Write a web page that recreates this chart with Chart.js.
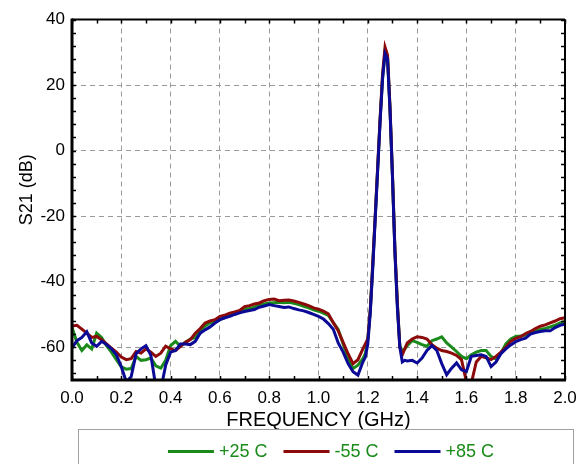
<!DOCTYPE html>
<html>
<head>
<meta charset="utf-8">
<script src="https://cdn.jsdelivr.net/npm/chart.js@4.4.0/dist/chart.umd.min.js"></script>
<style>
  html, body { margin: 0; padding: 0; background: #fff; }
  #wrap { width: 587px; height: 464px; }
</style>
</head>
<body>
<div id="wrap"><canvas id="s21Chart" width="587" height="464"></canvas></div>
<script>
// frequency points (GHz), shared by all three traces
const freq = [
  0.00, 0.02, 0.04, 0.06, 0.08, 0.10, 0.12, 0.14, 0.16, 0.18,
  0.20, 0.22, 0.24, 0.26, 0.28, 0.30, 0.32, 0.34, 0.36, 0.38,
  0.40, 0.42, 0.44, 0.46, 0.48, 0.50, 0.52, 0.54, 0.56, 0.58,
  0.60, 0.62, 0.64, 0.66, 0.68, 0.70, 0.72, 0.74, 0.76, 0.78,
  0.80, 0.82, 0.84, 0.86, 0.88, 0.90, 0.92, 0.94, 0.96, 0.98,
  1.00, 1.02, 1.04, 1.06, 1.08, 1.10, 1.12, 1.14, 1.16, 1.18,
  1.19, 1.20, 1.21, 1.22, 1.23, 1.24, 1.25, 1.26, 1.27, 1.28,
  1.29, 1.30, 1.31, 1.32, 1.33, 1.34, 1.35,
  1.36, 1.38, 1.40, 1.42, 1.44, 1.46, 1.48, 1.50, 1.52, 1.54,
  1.56, 1.58, 1.60, 1.62, 1.64, 1.66, 1.68, 1.70, 1.72, 1.74,
  1.76, 1.78, 1.80, 1.82, 1.84, 1.86, 1.88, 1.90, 1.92, 1.94,
  1.96, 1.98, 2.00
];

// S21 (dB) at +25 C
const s21Plus25 = [
  -54.0, -58.5, -61.0, -59.3, -60.5, -55.7, -57.0, -59.5, -61.5, -63.8,
  -66.0, -66.7, -66.5, -62.8, -64.0, -63.8, -63.3, -65.7, -66.4, -64.0,
  -59.5, -58.2, -59.7, -58.5, -57.5, -57.0, -55.0, -53.5, -52.5, -52.3,
  -51.6, -51.0, -50.1, -49.8, -49.2, -48.3, -48.2, -47.8, -47.2, -46.8,
  -46.5, -46.4, -46.3, -46.4, -46.3, -46.6, -47.0, -47.5, -48.0, -48.6,
  -49.0, -49.6, -50.3, -52.5, -54.6, -59.0, -63.5, -66.5, -65.5, -63.5,
  -62.0, -57.5, -49.0, -35.0, -20.5, -5.5, 9.5, 22.5, 30.2, 28.5,
  13.0, -7.5, -30.5, -47.0, -59.5, -61.3, -60.5,
  -59.5, -58.0, -58.5, -59.2, -59.7, -58.0, -57.5, -56.8, -58.7, -60.0,
  -61.3, -62.8, -63.5, -62.3, -61.5, -61.0, -61.0, -62.8, -63.6, -61.8,
  -59.0, -57.5, -56.7, -56.6, -56.3, -55.7, -55.2, -54.6, -54.3, -53.8,
  -53.3, -52.6, -52.1
];

// S21 (dB) at -55 C
const s21Minus55 = [
  -53.5, -53.3, -54.5, -55.7, -57.0, -56.7, -57.7, -59.0, -60.3, -61.5,
  -63.0, -63.8, -63.5, -61.3, -61.8, -60.5, -61.5, -62.8, -61.8, -59.7,
  -60.5, -61.0, -59.7, -58.5, -57.7, -55.7, -54.3, -52.6, -52.0, -51.6,
  -50.6, -50.2, -49.6, -49.2, -48.8, -47.6, -47.3, -46.8, -46.5, -45.8,
  -45.4, -45.3, -45.8, -45.7, -45.6, -45.9, -46.3, -46.8, -47.3, -48.0,
  -48.4, -49.0, -49.8, -52.5, -55.0, -58.5, -62.0, -65.0, -63.8, -60.5,
  -59.0, -57.5, -48.5, -34.5, -20.0, -5.0, 10.0, 23.5, 31.6, 29.2,
  13.5, -7.0, -30.0, -46.5, -60.0, -62.3, -60.5,
  -58.7, -57.5, -56.8, -57.0, -57.5, -59.2, -60.3, -61.0, -61.3, -61.8,
  -62.5, -63.8, -70.5, -71.0, -64.5, -62.8, -63.2, -63.8, -62.8, -61.5,
  -60.0, -58.2, -57.3, -56.8, -55.8, -55.2, -54.3, -53.6, -53.2, -52.6,
  -52.0, -51.3, -51.0
];

// S21 (dB) at +85 C
const s21Plus85 = [
  -60.2, -58.0, -57.0, -55.3, -58.7, -59.7, -58.2, -59.2, -60.5, -62.3,
  -66.0, -70.5, -69.0, -62.0, -60.5, -59.5, -62.5, -72.0, -73.0, -65.5,
  -61.5, -61.0, -59.0, -59.0, -59.2, -58.2, -55.7, -54.7, -53.8, -52.6,
  -51.6, -51.0, -50.6, -50.0, -49.5, -49.1, -48.8, -48.5, -47.8, -47.4,
  -47.0, -47.3, -47.6, -47.9, -47.7, -48.2, -48.6, -48.9, -49.4, -50.0,
  -50.6, -51.4, -52.8, -54.5, -58.7, -61.5, -65.0, -67.5, -68.5, -64.5,
  -63.0, -59.0, -49.5, -36.0, -21.0, -6.0, 9.0, 22.0, 29.6, 28.0,
  12.5, -8.0, -31.0, -48.0, -60.0, -64.5, -64.0,
  -64.2, -64.0, -64.8, -63.3, -61.0, -59.5, -61.0, -65.0, -68.4, -66.4,
  -64.8, -66.9, -67.4, -62.8, -62.5, -62.3, -62.8, -65.9, -64.5, -62.0,
  -60.5, -59.3, -58.3, -57.7, -57.2, -56.0, -55.5, -55.2, -55.0, -55.0,
  -54.0, -53.3, -53.0
];

const seriesLabels = ["+25 C", "-55 C", "+85 C"];
const seriesColors = ["#1a8a1a", "#8c0a0a", "#0a0a96"];
const xTicks = [0.0, 0.2, 0.4, 0.6, 0.8, 1.0, 1.2, 1.4, 1.6, 1.8, 2.0];
const yTicks = [-60, -40, -20, 0, 20, 40];

const FONT = "'Liberation Sans', Arial, sans-serif";

const toPoints = (vals) => vals.map((v, i) => ({ x: freq[i], y: v }));

// thick frame + small inward ticks, drawn over the traces
const framePlugin = {
  id: "frame",
  afterDatasetsDraw(chart) {
    const { ctx, chartArea: a, scales } = chart;
    const xs = scales.x, ys = scales.y;
    ctx.save();
    ctx.strokeStyle = "#000";
    ctx.lineWidth = 1.5;
    for (let f = 0; f <= 20; f++) {
      const px = Math.round(xs.getPixelForValue(f / 10)) + 0.5;
      ctx.beginPath();
      ctx.moveTo(px, a.bottom); ctx.lineTo(px, a.bottom - 4);
      ctx.moveTo(px, a.top); ctx.lineTo(px, a.top + 4);
      ctx.stroke();
    }
    for (let v = -68; v <= 40; v += 4) {
      const py = Math.round(ys.getPixelForValue(v)) + 0.5;
      ctx.beginPath();
      ctx.moveTo(a.left, py); ctx.lineTo(a.left + 4, py);
      ctx.moveTo(a.right, py); ctx.lineTo(a.right - 4, py);
      ctx.stroke();
    }
    ctx.lineWidth = 2;
    ctx.beginPath();
    ctx.moveTo(a.left, a.top); ctx.lineTo(a.right, a.top);
    ctx.moveTo(a.right, a.top); ctx.lineTo(a.right, a.bottom);
    ctx.stroke();
    ctx.lineWidth = 3;
    ctx.beginPath();
    ctx.moveTo(a.left, a.top - 1); ctx.lineTo(a.left, a.bottom);
    ctx.lineTo(a.right + 1, a.bottom);
    ctx.stroke();
    ctx.restore();
  }
};

// boxed legend under the axis title, labels all in green like the original
const legendBoxPlugin = {
  id: "legendBox",
  afterDraw(chart) {
    const { ctx } = chart;
    ctx.save();
    ctx.strokeStyle = "#a0a0a0";
    ctx.lineWidth = 1;
    ctx.strokeRect(78.5, 429.5, 495, 40);
    ctx.font = "18px " + FONT;
    ctx.textBaseline = "middle";
    const lineLen = 46, gapText = 5, gapItem = 16;
    const widths = seriesLabels.map((t) => ctx.measureText(t).width);
    const total = widths.reduce((s, w) => s + lineLen + gapText + w, 0) + gapItem * (seriesLabels.length - 1);
    let x = 331 - total / 2;
    const y = 451.5;
    seriesLabels.forEach((t, i) => {
      ctx.strokeStyle = seriesColors[i];
      ctx.lineWidth = 3;
      ctx.beginPath();
      ctx.moveTo(x, y); ctx.lineTo(x + lineLen, y);
      ctx.stroke();
      x += lineLen + gapText;
      ctx.fillStyle = seriesColors[0];
      ctx.fillText(t, x, y + 1);
      x += widths[i] + gapItem;
    });
    ctx.restore();
  }
};

const datasets = [s21Plus25, s21Minus55, s21Plus85].map((vals, i) => ({
  label: seriesLabels[i],
  data: toPoints(vals),
  borderColor: seriesColors[i],
  backgroundColor: seriesColors[i],
  borderWidth: 3,
  pointRadius: 0,
  tension: 0,
  order: 3 - i,
}));

new Chart(document.getElementById("s21Chart"), {
  type: "line",
  data: { datasets },
  options: {
    responsive: false,
    animation: false,
    layout: { padding: { left: 0, right: 22, top: 19.5, bottom: 32 } },
    plugins: { legend: { display: false }, tooltip: { enabled: false } },
    scales: {
      x: {
        type: "linear",
        min: 0,
        max: 2,
        afterBuildTicks: (s) => { s.ticks = xTicks.map((v) => ({ value: v })); },
        afterFit: (s) => { s.height = 52; },
        grid: { color: "#9a9a9a", lineWidth: 1, drawTicks: false },
        border: { display: false, dash: [5, 4] },
        ticks: {
          color: "#000",
          padding: 8,
          maxRotation: 0,
          font: { family: FONT, size: 17 },
          callback: (v) => Number(v).toFixed(1),
        },
        title: {
          display: true,
          text: "FREQUENCY (GHz)",
          color: "#000",
          font: { family: FONT, size: 20 },
          padding: { top: 0, bottom: 0 },
        },
      },
      y: {
        min: -70,
        max: 40,
        afterBuildTicks: (s) => { s.ticks = yTicks.map((v) => ({ value: v })); },
        afterFit: (s) => { s.width = 72; },
        grid: { color: "#9a9a9a", lineWidth: 1, drawTicks: false },
        border: { display: false, dash: [5, 4] },
        ticks: {
          color: "#000",
          padding: 7,
          font: { family: FONT, size: 17 },
        },
        title: {
          display: true,
          // leading spaces lift the rotated label a little, as in the original
          text: "    S21 (dB)",
          color: "#000",
          font: { family: FONT, size: 18 },
          padding: { top: 16, bottom: 0 },
        },
      },
    },
  },
  plugins: [framePlugin, legendBoxPlugin],
});
</script>
</body>
</html>
